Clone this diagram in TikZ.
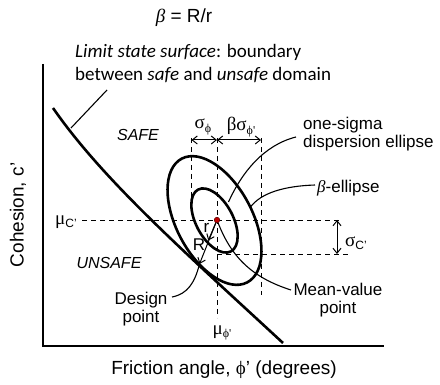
\documentclass[tikz,border=0pt]{standalone}
\usepackage{fontspec}
\setmainfont{Liberation Sans}
\newfontfamily\grk{Liberation Serif}
\newfontfamily\calfont{Carlito}
\usetikzlibrary{arrows.meta}
\newcommand\gsym[1]{{\grk\fontsize{19}{19}\selectfont #1}}
\newcommand\gsub[1]{\raisebox{-3.5pt}{\fontsize{12}{12}\selectfont #1}}
\begin{document}
\begin{tikzpicture}[x=1pt,y=-1pt,
  lbl/.style={inner sep=0pt, font=\fontsize{17}{18}\selectfont},
  axlbl/.style={inner sep=0pt, font=\fontsize{19}{20}\selectfont},
  zone/.style={inner sep=0pt, font=\fontsize{16}{18}\selectfont\itshape},
  ax/.style={line width=1.3pt},
  dsh/.style={line width=0.9pt, dash pattern=on 5pt off 4pt},
  thk/.style={line width=2.6pt},
  ptr/.style={line width=1.1pt},
  dim/.style={line width=1pt, {Straight Barb[length=5pt,width=8pt]}-{Straight Barb[length=5pt,width=8pt]}},
  arr/.style={line width=1pt, -{Straight Barb[length=5pt,width=8pt]}}]
\useasboundingbox (0,0) rectangle (440,385);

% axes
\coordinate (Ytop) at (43,64);
\coordinate (O) at (43,346);
\coordinate (Xend) at (384,346);
\draw[ax] (Ytop) -- (O) -- (Xend);

% mean point and ellipse centre
\coordinate (M) at (217,220);
\coordinate (E) at (214.5,220.5);

% dashed guide lines
\coordinate (hA) at (82,220);   \coordinate (hB) at (342,220);
\coordinate (hC) at (217,254);  \coordinate (hD) at (348,254);
\coordinate (vA) at (217,138);  \coordinate (vB) at (217,318);
\coordinate (vC) at (191.5,138);  \coordinate (vD) at (191.5,200);
\coordinate (vE) at (261,138);  \coordinate (vF) at (261,295);
\draw[dsh] (hA) -- (hB);
\draw[dsh] (hC) -- (hD);
\draw[dsh] (vA) -- (vB);
\draw[dsh] (vC) -- (vD);
\draw[dsh] (vE) -- (vF);

% ellipses
\draw[thk] (E) ellipse[x radius=35, y radius=18.5, rotate=118];
\draw[thk] (E) ellipse[x radius=70, y radius=38, rotate=118];

% limit state surface
\coordinate (L0) at (53,108);
\coordinate (L1) at (283,343);
\draw[thk] (L0) .. controls (103,180) and (183,250.5) .. (L1);

% dimension arrows
\coordinate (dA) at (191.5,140); \coordinate (dB) at (217,140); \coordinate (dC) at (261,140);
\draw[dim] (dA) -- (dB);
\draw[dim] (dB) -- (dC);
\coordinate (dD) at (337,220); \coordinate (dE) at (337,254);
\draw[dim] (dD) -- (dE);

% r and R
\coordinate (D) at (199.5,264);
\coordinate (rp) at (208.3,240.5);
\draw[arr] (M) -- (D);
\draw[arr] (M) -- (rp);
\node[lbl] (rl) at (206.5,228) {r};
\node[lbl] (Rl) at (199,245) {R};

% texts
\node[inner sep=0pt, font=\fontsize{19}{20}\selectfont] (title) at (184,18) {{\grk\itshape β} = R/r};
\node[inner sep=0pt, anchor=north west, align=left, font=\fontsize{19}{23}\selectfont\calfont] (lim) at (75,44)
  {\itshape Limit state surface\upshape: boundary\\between \itshape safe \upshape and \itshape unsafe \upshape domain};
\node[zone] (safe) at (138,135) {SAFE};
\node[zone] (unsafe) at (109,263) {UNSAFE};
\node[axlbl, rotate=90] (ylab) at (18,215) {Cohesion, c'};
\node[axlbl] (xlab) at (224,370) {Friction angle, \gsym{ϕ}' (degrees)};
\node[inner sep=0pt] (muc) at (66,222) {\gsym{μ}\gsub{C'}};
\node[inner sep=0pt] (muphi) at (222,333) {\gsym{μ}\gsub{\grk ϕ'}};
\node[inner sep=0pt] (sphi) at (203,127) {\gsym{σ}\gsub{\grk ϕ}};
\node[inner sep=0pt] (bsphi) at (241,127) {\gsym{βσ}\gsub{\grk ϕ'}};
\node[inner sep=0pt, anchor=west] (sc) at (345,243) {\gsym{σ}\gsub{C'}};
\node[lbl, anchor=west, align=left] (ones) at (303,134) {one-sigma\\dispersion ellipse};
\node[lbl, anchor=west] (bell) at (317,188) {{\grk\itshape β}-ellipse};
\node[lbl, align=center] (des) at (141,309) {Design\\point};
\node[lbl, align=center] (mvp) at (338,300) {Mean-value\\point};

% pointers
\coordinate (limA) at (107,90);
\coordinate (limB) at (71,128);
\draw[ptr] (limA) -- (limB);
\coordinate (oA) at (296,137); \coordinate (oB) at (228.5,202);
\draw[ptr] (oB) .. controls (242,172) and (264,145) .. (oA);
\coordinate (bA) at (315,185); \coordinate (bB) at (250.5,207);
\draw[ptr] (bB) .. controls (261,193) and (284,186) .. (bA);
\coordinate (mA) at (291,290);
\draw[ptr] (M) .. controls (230,255) and (250,277) .. (mA);
\coordinate (deA) at (172,297);
\draw[ptr] (deA) .. controls (188,294) and (195,282) .. (D);

% mean dot
\fill[fill={rgb,255:red,190;green,0;blue,0}, draw={rgb,255:red,90;green,0;blue,0}, line width=0.5pt] (M) circle[radius=2.8];
\end{tikzpicture}
\end{document}
